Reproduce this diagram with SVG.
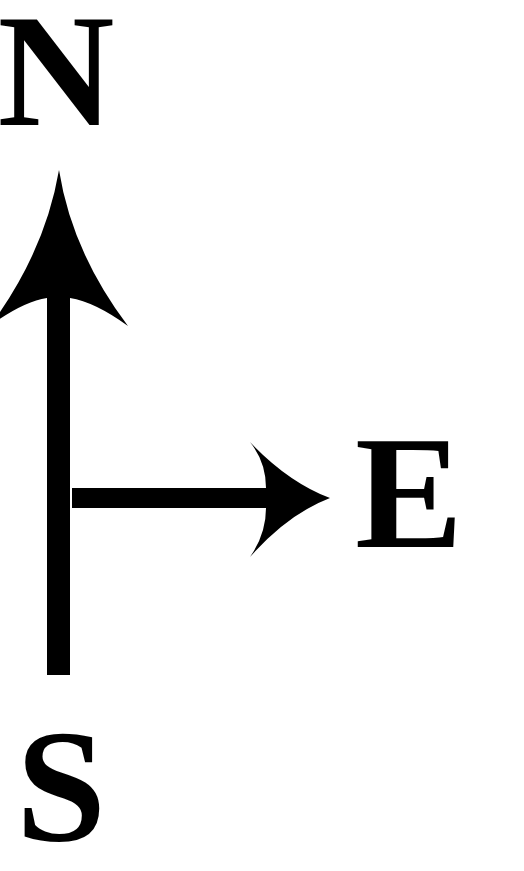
<svg xmlns="http://www.w3.org/2000/svg" width="524" height="871" viewBox="0 0 524 871">
<style>
.arr{fill:#000;stroke:none}
</style>
<rect width="524" height="871" fill="#fff"/>
<g id="connectors">
<path id="north-arrow" class="arr" d="M59,170 Q72,252 128,326 Q95,302 70,298 L70,675 L47,675 L47,298 Q22,302 -10,326 Q45,252 59,170 Z"/>
<path id="east-arrow" class="arr" d="M330,498 Q288,482 250,442 Q266,462 266,488 L72,488 L72,508 L266,508 Q266,534 250,557 Q288,514 330,498 Z"/>
</g>
<g font-family="Liberation Serif, Times New Roman, serif" font-weight="bold" font-size="162" fill="#000">
<g id="node-N"><text x="56" y="125" text-anchor="middle">N</text></g>
<g id="node-E"><text x="355" y="547">E</text></g>
<g id="node-S"><text x="61" y="840" text-anchor="middle">S</text></g>
</g>
</svg>
